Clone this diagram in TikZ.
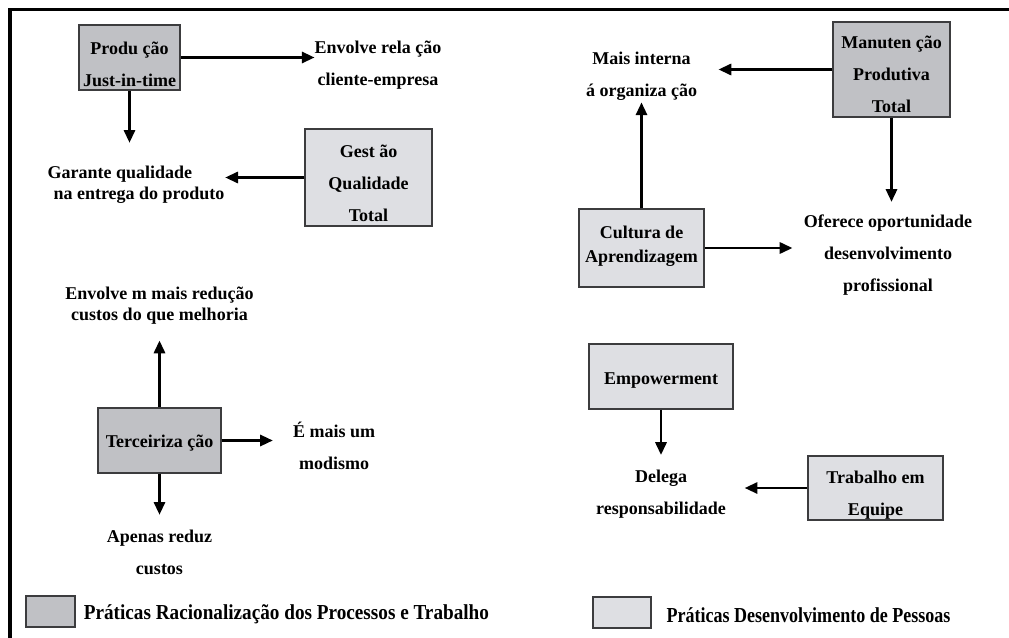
\documentclass[tikz,border=0pt]{standalone}
\usepackage{fontspec}
\setmainfont{Liberation Serif}
\usetikzlibrary{arrows.meta,positioning}

\definecolor{rfill}{RGB}{192,193,197}
\definecolor{pfill}{RGB}{222,223,227}
\definecolor{boxline}{RGB}{60,60,62}

\tikzstyle{rblock} = [draw=boxline, fill=rfill, rectangle, line width=0.9pt,
    align=center, inner sep=0pt]
\tikzstyle{pblock} = [draw=boxline, fill=pfill, rectangle, line width=0.9pt,
    align=center, inner sep=0pt]
\tikzstyle{note} = [align=center, inner sep=0pt]
\tikzstyle{tight} = [font=\bfseries\fontsize{13.5}{15.5}\selectfont]
\tikzstyle{conn} = [->, line width=1.6pt]
\tikzstyle{legtext} = [inner sep=0pt, yshift=-2pt, font=\bfseries\fontsize{16}{18}\selectfont]

\begin{document}
\begin{tikzpicture}[x=0.75pt, y=-0.75pt,
    font=\bfseries\fontsize{13.5}{24}\selectfont,
    >={Triangle[length=9.5pt,width=8.5pt]}]
    \useasboundingbox (0,0) rectangle (1009,638);
    \draw [line width=2.6pt] (1009,9.5) -| (10,638);

    % boxes
    \node [rblock, minimum width=75.75pt, minimum height=48.75pt, text height=43pt] (jit) at (129.5,57.5) {Produ ção\\Just-in-time};
    \node [pblock, minimum width=95.25pt, minimum height=72.75pt, text height=66pt] (gestao) at (368.5,177.5) {Gest ão\\Qualidade\\Total};
    \node [rblock, minimum width=87.75pt, minimum height=71.25pt, text height=64.1pt] (manut) at (891.5,69.5) {Manuten ção\\Produtiva\\Total};
    \node [pblock, minimum width=93.75pt, minimum height=58.5pt, text height=24.3pt, font=\bfseries\fontsize{13.5}{18}\selectfont] (cultura) at (641.5,248) {Cultura de\\Aprendizagem};
    \node [rblock, minimum width=92.25pt, minimum height=48.75pt, text height=13.5pt] (terc) at (159.5,440.5) {Terceiriza ção};
    \node [pblock, minimum width=108pt, minimum height=48.75pt, text height=15pt] (empower) at (661,376.5) {Empowerment};
    \node [pblock, minimum width=101.25pt, minimum height=48pt, text height=43.8pt] (trabalho) at (875.5,488) {Trabalho em\\Equipe};

    % labels
    \node [note, right of=jit, node distance=186.4pt, yshift=-6pt] (envolve) {Envolve rela ção\\cliente-empresa};
    \node [note, tight, align=left, left of=gestao, node distance=174.4pt, yshift=-5.5pt] (garante) {Garante qualidade\\\hspace*{4.5pt}na entrega do produto};
    \node [note, above of=cultura, node distance=129pt] (interna) {Mais interna\\á organiza ção};
    \node [note, below of=manut, node distance=139.1pt, xshift=-2.6pt] (oferece) {Oferece oportunidade\\desenvolvimento\\profissional};
    \node [note, tight, above of=terc, node distance=101pt] (envolvem) {Envolve m mais redução\\custos do que melhoria};
    \node [note, right of=terc, node distance=130.9pt, yshift=-3.8pt] (modismo) {É mais um\\modismo};
    \node [note, below of=terc, node distance=83.6pt] (apenas) {Apenas reduz\\custos};
    \node [note, below of=empower, node distance=88.1pt] (delega) {Delega\\responsabilidade};

    % connectors
    \draw [conn] (jit) -- (jit -| envolve.west);
    \draw [conn, shorten >=17.5pt] (jit) -- (jit |- garante.north);
    \draw [conn, shorten >=0.5pt] (gestao) -- (gestao -| garante.east);
    \draw [conn, shorten >=16pt] (manut) -- (manut -| interna.east);
    \draw [conn, shorten >=1.5pt] (cultura) -- (cultura |- interna.south);
    \draw [conn, shorten >=8.5pt] (cultura) -- (cultura -| oferece.west);
    \draw [conn, shorten >=9.5pt] (manut) -- (manut |- oferece.north);
    \draw [conn, shorten >=12pt] (terc) -- (terc |- envolvem.south);
    \draw [conn, shorten >=15pt] (terc) -- (terc -| modismo.west);
    \draw [conn, shorten >=11pt] (terc) -- (terc |- apenas.north);
    \draw [conn, shorten >=11pt] (empower) -- (empower |- delega.north);
    \draw [conn, shorten >=14pt] (trabalho) -- (trabalho -| delega.east);

    % legend
    \node [rblock, minimum width=36.75pt, minimum height=23.25pt] (legr) at (50.5,611.5) {};
    \node [legtext, right=6pt of legr] (legrtext) {\scalebox{0.9}[1]{Práticas Racionalização dos Processos e Trabalho}};
    \node [pblock, minimum width=43.5pt, minimum height=23.25pt] (legp) at (622,612.5) {};
    \node [legtext, right=11pt of legp] (legptext) {\scalebox{0.845}[1]{Práticas Desenvolvimento de Pessoas}};
\end{tikzpicture}
\end{document}
